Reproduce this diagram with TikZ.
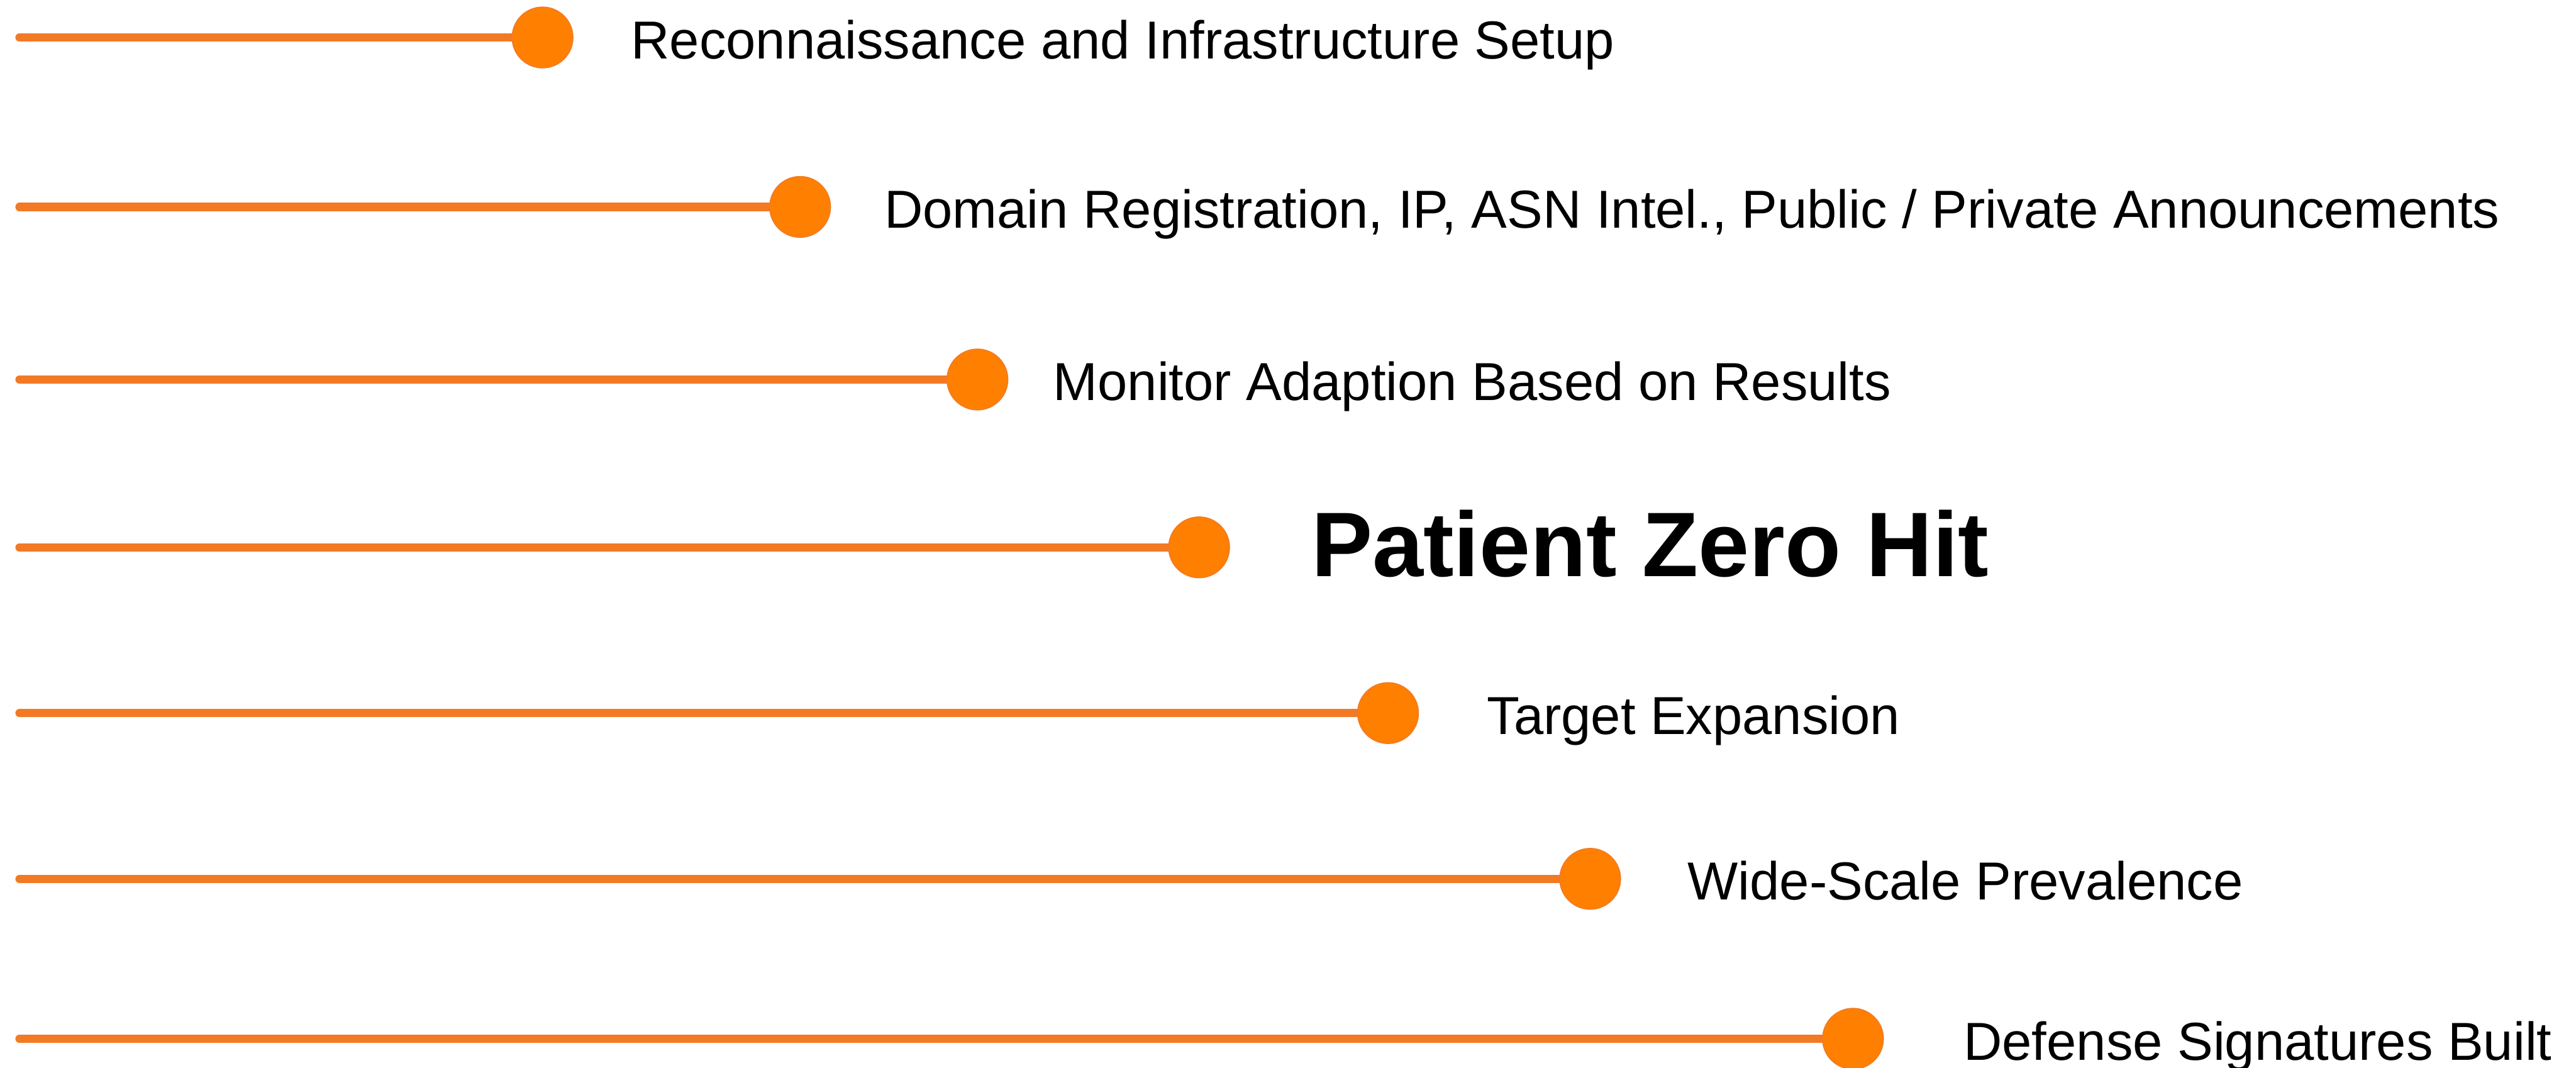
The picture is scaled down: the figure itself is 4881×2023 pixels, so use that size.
\documentclass[tikz,border=0pt]{standalone}
\usepackage{fontspec}
\setmainfont{Liberation Sans}
\definecolor{stemorange}{HTML}{F37A24}
\definecolor{dotorange}{HTML}{FF8000}
\begin{document}
\begin{tikzpicture}[
  x=0.01cm, y=-0.01cm,
  stem/.style={draw=stemorange, line width=4.5pt, line cap=round},
  knob/.style={circle, fill=dotorange, draw=stemorange, line width=0.6pt, minimum size=1.15cm, inner sep=0pt},
  eventtext/.style={anchor=base west, inner sep=0pt, font=\fontsize{28.8}{35}\selectfont},
  bigtext/.style={anchor=base west, inner sep=0pt, font=\fontsize{49.4}{60}\selectfont\bfseries}
]
\useasboundingbox (0,0) rectangle (4881,2023);

\coordinate (s1) at (37,71);
\coordinate (s2) at (37,392);
\coordinate (s3) at (37,719);
\coordinate (s4) at (37,1037);
\coordinate (s5) at (37,1351);
\coordinate (s6) at (37,1665);
\coordinate (s7) at (37,1968);

\draw[stem] (s1) -- (1028,71) node[knob] (d1) {};
\draw[stem] (s2) -- (1516,392) node[knob] (d2) {};
\draw[stem] (s3) -- (1852,719) node[knob] (d3) {};
\draw[stem] (s4) -- (2272,1037) node[knob] (d4) {};
\draw[stem] (s5) -- (2630,1351) node[knob] (d5) {};
\draw[stem] (s6) -- (3013,1665) node[knob] (d6) {};
\draw[stem] (s7) -- (3511,1968) node[knob] (d7) {};

\node[eventtext] (l1) at (1195,111) {Reconnaissance and Infrastructure Setup};
\node[eventtext] (l2) at (1675,432) {Domain Registration, IP, ASN Intel., Public / Private Announcements};
\node[eventtext] (l3) at (1995,759) {Monitor Adaption Based on Results};
\node[bigtext] (l4) at (2484,1092) {Patient Zero Hit};
\node[eventtext] (l5) at (2817,1391) {Target Expansion};
\node[eventtext] (l6) at (3197,1705) {Wide-Scale Prevalence};
\node[eventtext] (l7) at (3720,2008) {Defense Signatures Built};
\end{tikzpicture}
\end{document}
